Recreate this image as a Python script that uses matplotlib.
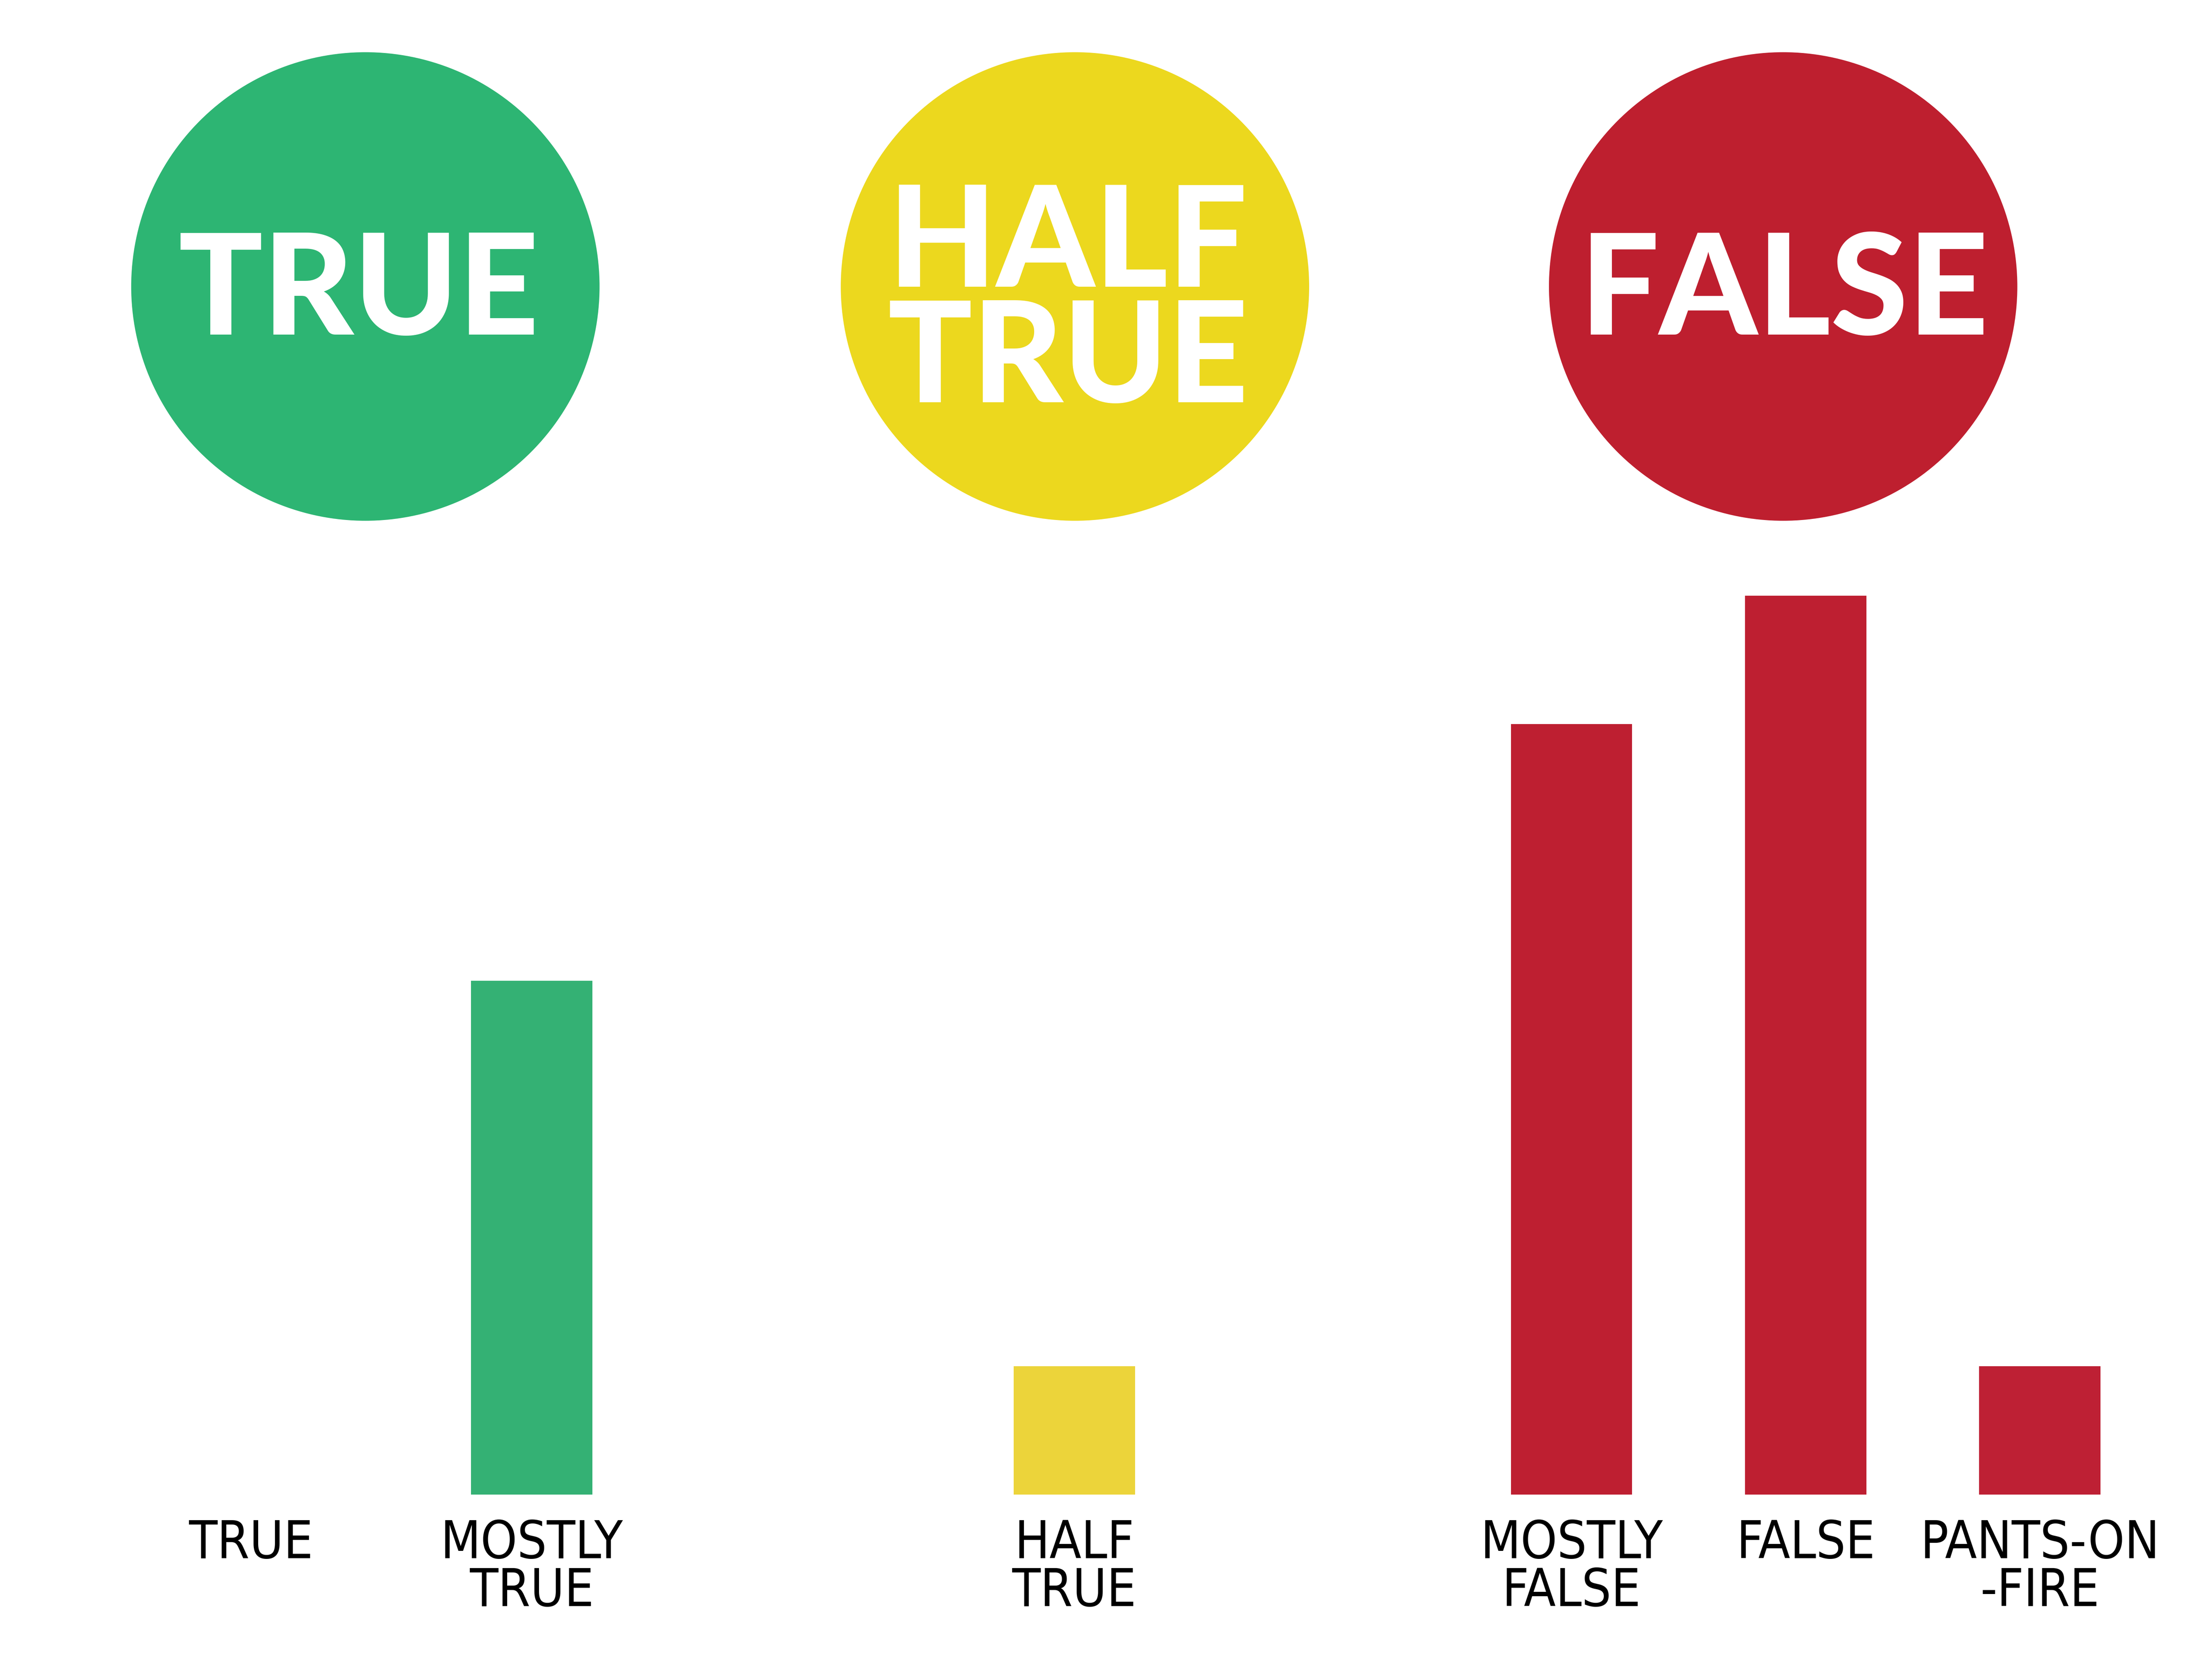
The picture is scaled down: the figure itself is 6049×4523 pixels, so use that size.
import matplotlib
matplotlib.use("Agg")
import matplotlib.pyplot as plt
from matplotlib.patches import Circle

# ---- data ----
categories = ["TRUE", "MOSTLY\nTRUE", "HALF\nTRUE", "MOSTLY\nFALSE", "FALSE", "PANTS-ON\n-FIRE"]
values = [0, 4, 1, 6, 7, 1]
bar_colors = ["#34B174", "#34B174", "#ECD43A", "#BE1F31", "#BE1F31", "#BE2034"]
badge_labels = ["TRUE", "HALF\nTRUE", "FALSE"]
badge_colors = ["#2DB573", "#ECD81E", "#BE1F2F"]

# ---- layout (reference pixel space 1568 x 1172) ----
W, H = 1568, 1172
bar_x = [178, 377, 761.5, 1114, 1280, 1446]
bar_w = 86
base_y, top_y = 1059, 422
badge_x = [259, 762, 1264]
badge_text_dx = [-5, -5, 1]
badge_y = 203
badge_r = 166

DPI = 400
fig = plt.figure(figsize=(6049 / DPI, 4523 / DPI), dpi=DPI)
fig.patch.set_facecolor("white")

# bar axes
ax = fig.add_axes([0, 1 - base_y / H, 1, (base_y - top_y) / H])
ax.bar(bar_x, values, width=bar_w, color=bar_colors, linewidth=0)
ax.set_xlim(0, W)
ax.set_ylim(0, max(values))
ax.axis("off")

# overlay axes in pixel coordinates
ov = fig.add_axes([0, 0, 1, 1], zorder=3)
ov.set_xlim(0, W)
ov.set_ylim(H, 0)
ov.axis("off")
ov.patch.set_alpha(0)

badge_font = dict(family=["Lato", "DejaVu Sans"], weight="black", color="white",
                  fontsize=69, ha="center", va="baseline", multialignment="center")
for cx, dx, lab, col in zip(badge_x, badge_text_dx, badge_labels, badge_colors):
    ov.add_patch(Circle((cx, badge_y), badge_r, color=col, linewidth=0))
    if "\n" in lab:
        ov.text(cx + dx, 285, lab, linespacing=0.88, **badge_font)
    else:
        ov.text(cx + dx, 237, lab, **badge_font)

label_font = dict(family="DejaVu Sans", stretch="condensed", color="black",
                  fontsize=25.5, ha="center", va="baseline")
for x, lab in zip(bar_x, categories):
    lines = lab.split("\n")
    ov.text(x, 1104, lines[0], **label_font)
    if len(lines) > 1:
        ov.text(x, 1138, lines[1], **label_font)

fig.savefig("out.png", dpi=DPI, facecolor="white")
